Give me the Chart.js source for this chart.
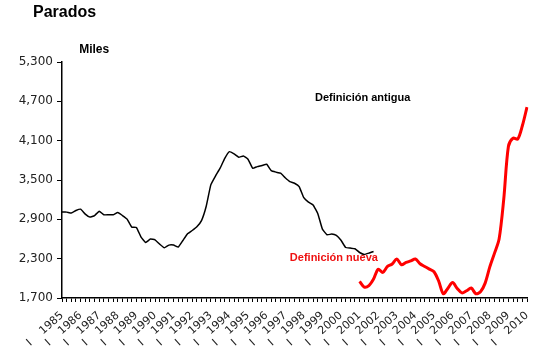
<!DOCTYPE html>
<html>
<head>
<meta charset="utf-8">
<script src="https://cdn.jsdelivr.net/npm/chart.js@4/dist/chart.umd.min.js"></script>
<style>
html,body{margin:0;padding:0;background:#fff;}
#wrap{width:544px;height:356px;position:relative;}
</style>
</head>
<body>
<div id="wrap"><canvas id="c" width="544" height="356"></canvas></div>
<script>
// Years on the axis (quarterly data, label on quarter I)
const years = [1985,1986,1987,1988,1989,1990,1991,1992,1993,1994,1995,1996,1997,1998,1999,2000,2001,2002,2003,2004,2005,2006,2007,2008,2009,2010];
const quarters = ["I","II","III","IV"];
// Definición antigua: 1985-I .. 2001-IV (miles)
const antigua = [3010,3010,2995,3034,3055,2980,2934,2958,3025,2969,
                 2969,2969,3004,2958,2903,2781,2775,2629,2547,2599,
                 2588,2522,2466,2507,2507,2477,2577,2680,2730,2786,
                 2880,3095,3426,3560,3680,3830,3933,3898,3847,3867,
                 3817,3680,3704,3720,3741,3643,3620,3604,3535,3476,
                 3450,3400,3230,3162,3120,2990,2750,2664,2675,2654,
                 2580,2471,2461,2451,2394,2365,2385,2410];
// Definición nueva: 2001-I .. 2010-I (miles)
const nuevaStart = "2001-I";
const nueva = [1953,1867,1890,1990,2140,2090,2181,2218,2294,2207,
               2242,2265,2294,2222,2180,2140,2101,1959,1765,1850,
               1935,1845,1778,1810,1852,1765,1795,1927,2174,2381,
               2599,3208,4010,4138,4123,4327,4612];
const yTicks = [1700,2300,2900,3500,4100,4700,5300];

// Build category list 1985-I .. 2010-I
const cats = [];
years.forEach(y => quarters.forEach(q => { if (y < 2010 || q === "I") cats.push(y + "-" + q); }));
const antiguaData = cats.map((c,i) => i < antigua.length ? antigua[i] : null);
const startIdx = cats.indexOf(nuevaStart);
const nuevaData = cats.map((c,i) => (i >= startIdx && i - startIdx < nueva.length) ? nueva[i - startIdx] : null);

const labelFont = "'DejaVu Sans', Verdana, sans-serif";
const boldFont = "'Liberation Sans', Arial, sans-serif";

const textPlugin = {
  id: 'texts',
  afterDraw(chart) {
    const ctx = chart.ctx;
    const xs = chart.scales.x, ys = chart.scales.y;
    ctx.save();
    ctx.textBaseline = 'middle';
    ctx.textAlign = 'left';
    ctx.fillStyle = '#000';
    ctx.font = "bold 16px " + boldFont;
    ctx.fillText("Parados", 33, 13);
    ctx.font = "bold 12px " + boldFont;
    ctx.fillText("Miles", xs.getPixelForValue(3.7), ys.getPixelForValue(5490));
    ctx.font = "bold 11px " + boldFont;
    ctx.fillText("Definición antigua", xs.getPixelForValue(54.4), ys.getPixelForValue(4750));
    ctx.fillStyle = '#ee1111';
    ctx.fillText("Definición nueva", xs.getPixelForValue(49.0), ys.getPixelForValue(2314));
    ctx.restore();
  }
};

new Chart(document.getElementById('c'), {
  type: 'line',
  data: {
    labels: cats,
    datasets: [
      { label: 'Definición antigua', data: antiguaData, borderColor: '#000', borderWidth: 1.5,
        pointRadius: 0, tension: 0.1, spanGaps: false },
      { label: 'Definición nueva', data: nuevaData, borderColor: '#ff0000', borderWidth: 3,
        pointRadius: 0, tension: 0.3, spanGaps: false }
    ]
  },
  options: {
    responsive: false,
    animation: false,
    layout: { padding: { top: 62, right: 17, left: 0, bottom: 0 } },
    plugins: { legend: { display: false }, tooltip: { enabled: false }, title: { display: false } },
    scales: {
      x: {
        type: 'category',
        offset: false,
        grid: { display: true, drawOnChartArea: false, drawTicks: true, tickLength: 4, color: '#000', lineWidth: 1 },
        border: { display: true, color: '#000', width: 1.5 },
        ticks: {
          autoSkip: false, maxRotation: 42, minRotation: 42, padding: 7,
          color: '#222', font: { family: labelFont, size: 11 },
          callback: function(v, i) { const c = cats[i]; return c.endsWith("-I") ? "I    " + c.split("-")[0] : ""; }
        },
        afterFit(s) { s.height = 58; }
      },
      y: {
        min: 1700, max: 5300,
        afterBuildTicks(s) { s.ticks = yTicks.map(v => ({ value: v })); },
        grid: { display: true, drawOnChartArea: false, drawTicks: true, tickLength: 5, color: '#000', lineWidth: 1 },
        border: { display: true, color: '#000', width: 1.5 },
        ticks: {
          padding: 4, color: '#222', font: { family: labelFont, size: 12 },
          callback: v => Number(v).toLocaleString('en-US')
        },
        afterFit(s) { s.width = 62; }
      }
    }
  },
  plugins: [textPlugin]
});
</script>
</body>
</html>
